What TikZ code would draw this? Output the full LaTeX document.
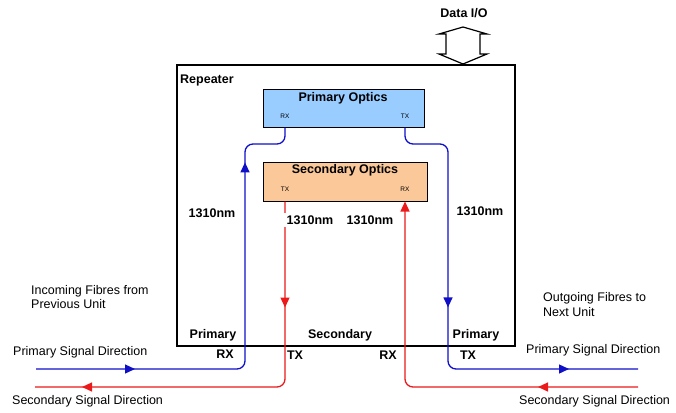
\documentclass[tikz,border=0pt]{standalone}
\usepackage{fontspec}
\setmainfont{Liberation Sans}
\usetikzlibrary{arrows.meta,decorations.markings}
\definecolor{fblue}{RGB}{15,15,200}
\definecolor{fred}{RGB}{235,25,25}
\definecolor{pofill}{RGB}{153,204,255}
\definecolor{sofill}{RGB}{250,200,153}
\tikzset{
  fibtip/.tip={Triangle[length=10pt,width=9pt]},
  fibre/.style={line width=1.3pt, rounded corners=8pt},
  pfibre/.style={fibre, color=fblue},
  sfibre/.style={fibre, color=fred},
  arrowat/.style={postaction={decorate,decoration={markings,mark=at position #1 with {\arrow{fibtip}}}}},
  optbox/.style={draw=black, line width=1pt, inner sep=0pt},
  lbl/.style={font=\fontsize{12.5}{14.5}\selectfont\bfseries, inner sep=0pt},
  txt/.style={font=\fontsize{12.5}{14.5}\selectfont, inner sep=0pt, align=left},
  small/.style={font=\fontsize{6.5}{7}\selectfont, inner sep=0pt}
}
\begin{document}
\begin{tikzpicture}[x=1pt,y=-1pt]
\useasboundingbox (0,0) rectangle (676,412);

% Repeater box
\node[draw, line width=1.4pt, minimum width=338pt, minimum height=281pt, inner sep=0pt] (rep) at (346,205.5) {};
\node[lbl, anchor=west] (repl) at (180,80) {Repeater};

% Data I/O arrow
\node[lbl] (dio) at (464,13) {Data I/O};
\draw[line width=1.2pt, fill=white] (463,27) -- (487,34) -- (480,34) -- (480,54) -- (487,54) -- (463,64)
  -- (439,54) -- (446,54) -- (446,34) -- (439,34) -- cycle;

% Optics boxes
\node[optbox, fill=pofill, minimum width=161pt, minimum height=38pt] (po) at (343.5,108) {};
\node[lbl] (pot) at (343,98) {Primary Optics};
\node[small] (prx) at (285,116) {RX};
\node[small] (ptx) at (405,116) {TX};

\node[optbox, fill=sofill, minimum width=164pt, minimum height=39pt] (so) at (345,181.5) {};
\node[lbl] (sot) at (345,170) {Secondary Optics};
\node[small] (stx) at (285,189) {TX};
\node[small] (srx) at (405,189) {RX};

% fibre end points
\coordinate (pin) at (36,369);
\coordinate (sout) at (35,387);
\coordinate (pout) at (638,369);
\coordinate (sin) at (638,387);

% fibres
\draw[pfibre, arrowat=99pt, arrowat=-68pt] (pin) -- (245,369) -- (245,144) -- (285,144) -- (prx |- po.south);
\draw[sfibre, arrowat=106pt, arrowat=-47pt] (stx |- so.south) -- (285,387) -- (sout);
\draw[pfibre, arrowat=216pt, arrowat=-69pt] (ptx |- po.south) -- (405,144) -- (448,144) -- (448,369) -- (pout);
\draw[sfibre, arrowat=100pt, -{fibtip}] (sin) -- (405,387) -- (srx |- so.south);

% wavelength labels
\node[lbl] (w1) at (212,213) {1310nm};
\node[lbl, fill=white, inner sep=3pt, anchor=west] (w2) at (283.5,220) {1310nm};
\node[lbl] (w3) at (370,220) {1310nm};
\node[lbl] (w4) at (480,211) {1310nm};

% bottom labels
\node[lbl] (bp1) at (213,335) {Primary};
\node[lbl] (bs) at (340,335) {Secondary};
\node[lbl] (bp2) at (476,335) {Primary};
\node[lbl] (b1) at (225,354) {RX};
\node[lbl] (b2) at (295,355) {TX};
\node[lbl] (b3) at (388,355) {RX};
\node[lbl] (b4) at (468,355) {TX};

% side texts
\node[txt, anchor=west] (inc) at (31,297) {Incoming Fibres from\\Previous Unit};
\node[txt, anchor=west] (outg) at (543,304.5) {Outgoing Fibres to\\Next Unit};
\node[txt, anchor=west] (psl) at (13,352) {Primary Signal Direction};
\node[txt, anchor=west] (ssl) at (12,401) {Secondary Signal Direction};
\node[txt, anchor=west] (psr) at (526,350) {Primary Signal Direction};
\node[txt, anchor=west] (ssr) at (519,401) {Secondary Signal Direction};
\end{tikzpicture}
\end{document}
